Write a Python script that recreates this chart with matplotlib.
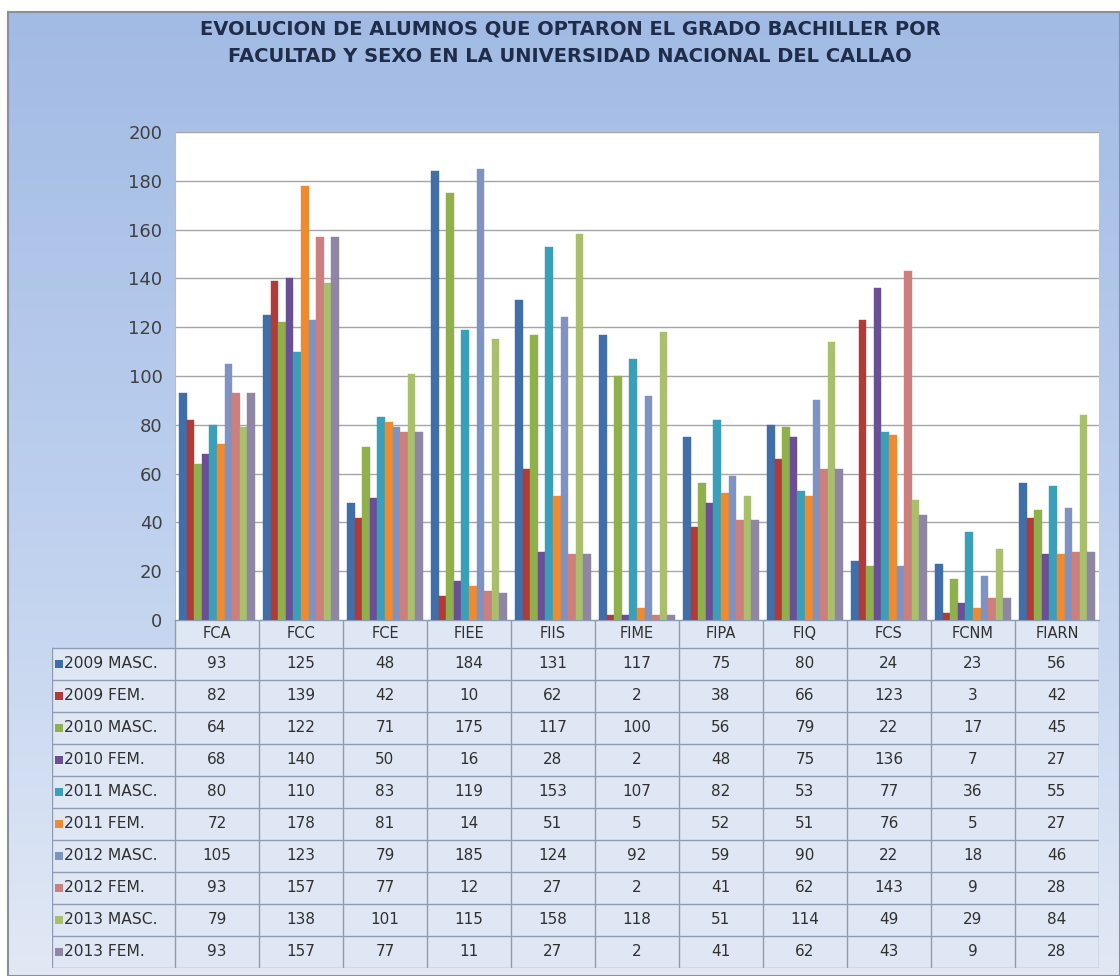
import numpy as np
import matplotlib
matplotlib.use("Agg")
import matplotlib.pyplot as plt
from matplotlib.patches import Rectangle
from matplotlib.colors import LinearSegmentedColormap

# data
facultades = ["FCA", "FCC", "FCE", "FIEE", "FIIS", "FIME", "FIPA", "FIQ", "FCS", "FCNM", "FIARN"]
series = ["2009 MASC.", "2009 FEM.", "2010 MASC.", "2010 FEM.", "2011 MASC.",
          "2011 FEM.", "2012 MASC.", "2012 FEM.", "2013 MASC.", "2013 FEM."]
m2009 = [93, 125, 48, 184, 131, 117, 75, 80, 24, 23, 56]
f2009 = [82, 139, 42, 10, 62, 2, 38, 66, 123, 3, 42]
m2010 = [64, 122, 71, 175, 117, 100, 56, 79, 22, 17, 45]
f2010 = [68, 140, 50, 16, 28, 2, 48, 75, 136, 7, 27]
m2011 = [80, 110, 83, 119, 153, 107, 82, 53, 77, 36, 55]
f2011 = [72, 178, 81, 14, 51, 5, 52, 51, 76, 5, 27]
m2012 = [105, 123, 79, 185, 124, 92, 59, 90, 22, 18, 46]
f2012 = [93, 157, 77, 12, 27, 2, 41, 62, 143, 9, 28]
m2013 = [79, 138, 101, 115, 158, 118, 51, 114, 49, 29, 84]
f2013 = [93, 157, 77, 11, 27, 2, 41, 62, 43, 9, 28]
valores = [m2009, f2009, m2010, f2010, m2011, f2011, m2012, f2012, m2013, f2013]

colores = ["#3f6ea8", "#b23b38", "#8fb04a", "#6b4f94", "#3aa0ba",
           "#ee8a30", "#7f93c2", "#cc7f7c", "#a9bf6c", "#8f86a3"]

titulo = ("EVOLUCION DE ALUMNOS QUE OPTARON EL GRADO BACHILLER POR\n"
          "FACULTAD Y SEXO EN LA UNIVERSIDAD NACIONAL DEL CALLAO")

W, H = 1120, 976
fig = plt.figure(figsize=(W / 100, H / 100), dpi=100)
fig.patch.set_facecolor("white")

def fx(px):
    return px / W

def fy(py):
    return 1 - py / H

# fondo con degradado
ax_bg = fig.add_axes([fx(8), 0, 1 - fx(8), fy(12)])
grad = np.linspace(0, 1, 256).reshape(-1, 1)
cmap_bg = LinearSegmentedColormap.from_list("bg", ["#a2bbe4", "#bccfee", "#e2e9f5"])
ax_bg.imshow(grad, aspect="auto", cmap=cmap_bg, extent=[0, 1, 0, 1], origin="upper")
ax_bg.set_xlim(0, 1)
ax_bg.set_ylim(0, 1)
ax_bg.set_xticks([])
ax_bg.set_yticks([])
for s in ax_bg.spines.values():
    s.set_color("#8a8f99")
    s.set_linewidth(1.5)

fig.text(0.509, fy(43), titulo, ha="center", va="center", fontsize=14,
         fontweight="bold", color="#1f2d4a", linespacing=1.55)

# grafico de barras
left, right, top, bottom = 175, 1099, 132, 620
ax = fig.add_axes([fx(left), fy(bottom), fx(right - left), (bottom - top) / H])
ax.set_facecolor("white")
n = len(series)
x = np.arange(len(facultades))
grupo = 0.9
bw = grupo / n
for i, (vals, c) in enumerate(zip(valores, colores)):
    ax.bar(x - grupo / 2 + bw * (i + 0.5), vals, width=bw, color=c,
           edgecolor=c, linewidth=0.3, zorder=3)
ax.set_xlim(-0.5, len(facultades) - 0.5)
ax.set_ylim(0, 200)
ax.set_yticks(np.arange(0, 201, 20))
ax.yaxis.grid(True, color="#a6a6a6", linewidth=1.0, zorder=0)
ax.set_xticks([])
ax.tick_params(axis="y", length=0, pad=9, labelsize=13, labelcolor="#404040")
for s in ["top", "right"]:
    ax.spines[s].set_visible(False)
ax.spines["left"].set_color("#b8bcc4")
ax.spines["bottom"].set_color("#8d9bb5")

# tabla de datos
tx0, tx1, ty0, ty1 = 52, 1099, 620, 968
ax_t = fig.add_axes([fx(tx0), fy(ty1), fx(tx1 - tx0), (ty1 - ty0) / H])
ax_t.set_xlim(tx0, tx1)
ax_t.set_ylim(ty1, ty0)
ax_t.axis("off")
colw = (right - left) / len(facultades)
hdr = 28
rowh = (ty1 - ty0 - hdr) / n
linec = "#8d9bb5"
ax_t.add_patch(Rectangle((left, ty0), right - left, hdr, facecolor="#dfe7f4",
                         edgecolor="none"))
ax_t.add_patch(Rectangle((tx0, ty0 + hdr), tx1 - tx0, ty1 - ty0 - hdr,
                         facecolor="#dfe7f4", edgecolor="none"))
for j, fac in enumerate(facultades):
    cx = left + colw * (j + 0.5)
    ax_t.text(cx, ty0 + hdr / 2, fac, ha="center", va="center", fontsize=10.5,
              color="#303030")
for i, (name, vals, c) in enumerate(zip(series, valores, colores)):
    cy = ty0 + hdr + rowh * (i + 0.5)
    ax_t.add_patch(Rectangle((55, cy - 4), 8, 8, facecolor=c, edgecolor="none"))
    ax_t.text(64, cy, name, ha="left", va="center", fontsize=11.2, color="#303030")
    for j, v in enumerate(vals):
        ax_t.text(left + colw * (j + 0.5), cy, str(v), ha="center", va="center",
                  fontsize=11, color="#303030")
# lineas de la tabla
for j in range(len(facultades) + 1):
    ax_t.plot([left + colw * j] * 2, [ty0, ty1], color=linec, lw=1)
ax_t.plot([tx0, tx0], [ty0 + hdr, ty1], color=linec, lw=1)
ax_t.plot([left, right], [ty0, ty0], color=linec, lw=1)
for i in range(n + 1):
    yy = ty0 + hdr + rowh * i
    ax_t.plot([tx0, tx1], [yy, yy], color=linec, lw=1)

fig.savefig("out.png", dpi=100)
